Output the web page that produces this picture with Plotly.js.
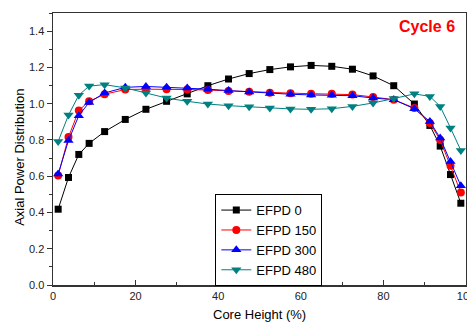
<!DOCTYPE html>
<html><head><meta charset="utf-8">
<script src="https://cdn.plot.ly/plotly-3.0.1.min.js"></script>
<style>html,body{margin:0;padding:0;background:#fff;overflow:hidden}#chart{width:467px;height:322px}</style>
</head><body><div id="chart"></div>
<script>
const coreHeight = [1.25, 3.75, 6.25, 8.75, 12.5, 17.5, 22.5, 27.5, 32.5, 37.5, 42.5, 47.5, 52.5, 57.5, 62.5, 67.5, 72.5, 77.5, 82.5, 87.5, 91.25, 93.75, 96.25, 98.75];
const efpd0   = [0.418, 0.593, 0.720, 0.781, 0.846, 0.913, 0.969, 1.013, 1.054, 1.099, 1.136, 1.166, 1.188, 1.203, 1.211, 1.206, 1.190, 1.153, 1.099, 0.998, 0.880, 0.766, 0.609, 0.451];
const efpd150 = [0.604, 0.816, 0.963, 1.013, 1.052, 1.078, 1.080, 1.080, 1.078, 1.075, 1.070, 1.066, 1.060, 1.058, 1.055, 1.054, 1.050, 1.037, 1.022, 0.976, 0.893, 0.800, 0.657, 0.510];
const efpd300 = [0.612, 0.797, 0.934, 1.007, 1.059, 1.090, 1.095, 1.090, 1.087, 1.080, 1.072, 1.064, 1.056, 1.052, 1.048, 1.046, 1.044, 1.031, 1.022, 0.972, 0.902, 0.810, 0.681, 0.547];
const efpd480 = [0.792, 0.937, 1.047, 1.097, 1.105, 1.087, 1.059, 1.031, 1.013, 0.998, 0.989, 0.983, 0.976, 0.971, 0.969, 0.972, 0.985, 1.004, 1.028, 1.054, 1.040, 0.985, 0.866, 0.742];
const seriesNames = ['EFPD 0', 'EFPD 150', 'EFPD 300', 'EFPD 480'];
const chartTitle = 'Cycle 6';
const xTitle = 'Core Height (%)';
const yTitle = 'Axial Power Distribution';

const FONT = 'Liberation Sans, Arial, sans-serif';
const styles = [
  {color: '#000000', symbol: 'square', size: 7},
  {color: '#ff0000', symbol: 'circle', size: 8},
  {color: '#0000ff', symbol: 'triangle-up', size: 9},
  {color: '#008080', symbol: 'triangle-down', size: 9}
];
const ys = [efpd0, efpd150, efpd300, efpd480];
const traces = ys.map((y, i) => ({
  x: coreHeight, y: y, name: seriesNames[i], type: 'scatter', mode: 'lines+markers',
  line: {color: styles[i].color, width: 1},
  marker: {color: styles[i].color, symbol: styles[i].symbol, size: styles[i].size}
}));

const layout = {
  width: 467, height: 322,
  margin: {l: 53, r: 1, t: 13, b: 37},
  paper_bgcolor: '#fff', plot_bgcolor: '#fff',
  font: {family: FONT, size: 11, color: '#222'},
  showlegend: true,
  legend: {
    x: 0.393, y: 0.165, xanchor: 'left', yanchor: 'middle',
    bgcolor: '#fff', bordercolor: '#000', borderwidth: 1,
    font: {family: FONT, size: 13, color: '#000'},
    tracegroupgap: 0
  },
  xaxis: {
    range: [0, 100], dtick: 20, tick0: 0,
    showgrid: false, zeroline: false,
    showline: true, linecolor: '#333', linewidth: 1.5, mirror: true,
    ticks: 'inside', ticklen: 5, tickcolor: '#333', tickwidth: 1,
    minor: {dtick: 10, ticks: 'inside', ticklen: 3, tickcolor: '#333'},
    ticklabeloverflow: 'allow',
    tickfont: {family: FONT, size: 11, color: '#222'}
  },
  yaxis: {
    range: [0, 1.5], dtick: 0.2, tick0: 0, tickformat: '.1f',
    showgrid: false, zeroline: false,
    showline: true, linecolor: '#333', linewidth: 1.5, mirror: true,
    ticks: 'outside', ticklen: 5, tickcolor: '#333', tickwidth: 1,
    minor: {dtick: 0.1, ticks: 'outside', ticklen: 3, tickcolor: '#333'},
    tickfont: {family: FONT, size: 11, color: '#222'}
  },
  annotations: [
    {
      text: '<b>' + chartTitle + '</b>', xref: 'paper', yref: 'paper',
      x: 0.978, y: 0.99, xanchor: 'right', yanchor: 'top', showarrow: false,
      font: {family: FONT, size: 16, color: '#ff0000'}
    },
    {
      text: xTitle, xref: 'paper', yref: 'paper', x: 0.5, y: -0.109,
      xanchor: 'center', yanchor: 'middle', showarrow: false,
      font: {family: FONT, size: 13, color: '#000'}
    },
    {
      text: yTitle, xref: 'paper', yref: 'paper', x: -0.08, y: 0.471,
      xanchor: 'center', yanchor: 'middle', textangle: -90, showarrow: false,
      font: {family: FONT, size: 13, color: '#000'}
    }
  ]
};
Plotly.newPlot('chart', traces, layout, {displayModeBar: false, staticPlot: true});
</script></body></html>
